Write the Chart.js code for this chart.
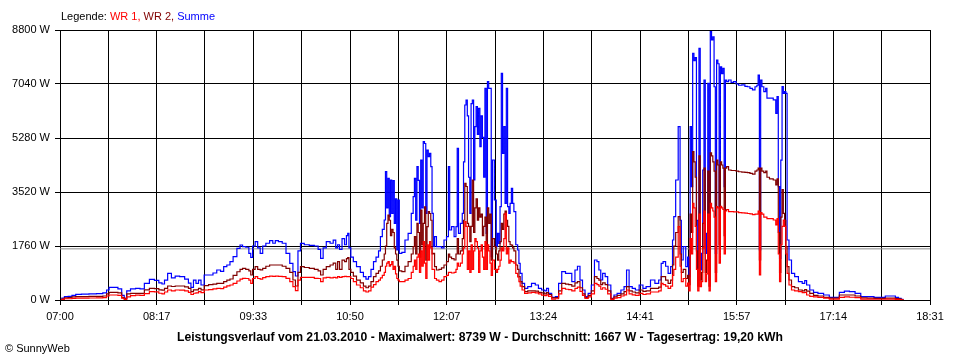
<!DOCTYPE html>
<html>
<head>
<meta charset="utf-8">
<script src="https://cdn.jsdelivr.net/npm/chart.js@4.4.1/dist/chart.umd.min.js"></script>
<style>
  html, body { margin: 0; padding: 0; background: #fff; }
  #wrap { width: 960px; height: 360px; }
</style>
</head>
<body>
<div id="wrap"><canvas id="chart" width="960" height="360"></canvas></div>
<script>
// Tick labels and legend
const yTicks = [0, 1760, 3520, 5280, 7040, 8800];
const xTickLabels = ['07:00', '08:17', '09:33', '10:50', '12:07', '13:24', '14:41', '15:57', '17:14', '18:31'];
const legendLabels = ['WR 1', 'WR 2', 'Summe'];
const dayInfo = { date: '21.03.2010', max: 8739, avg: 1667, yield: '19,20' };

// Sample times (HH:MM), one row per group of 10
const times = [
  '07:01','07:02','07:05','07:08','07:11','07:14','07:20','07:26','07:32','07:36',
  '07:38','07:40','07:44','07:48','07:50','07:52','07:54','07:58','08:02','08:05',
  '08:09','08:13','08:17','08:20','08:22','08:24','08:27','08:30','08:33','08:37',
  '08:41','08:43','08:45','08:47','08:49','08:51','08:53','08:56','09:00','09:03',
  '09:06','09:09','09:11','09:14','09:16','09:19','09:22','09:24','09:26','09:29',
  '09:31','09:32','09:34','09:36','09:38','09:40','09:42','09:45','09:48','09:50',
  '09:52','09:55','09:58','10:01','10:04','10:06','10:08','10:10','10:12','10:16',
  '10:20','10:24','10:26','10:28','10:30','10:33','10:36','10:38','10:40','10:41',
  '10:43','10:45','10:47','10:48','10:49','10:50','10:52','10:54','10:57','11:00',
  '11:02','11:04','11:06','11:08','11:10','11:12','11:14','11:15','11:17','11:18',
  '11:19','11:20','11:21','11:22','11:23','11:24','11:25','11:26','11:27','11:28',
  '11:29','11:30','11:33','11:35','11:38','11:40','11:41','11:42','11:43','11:44',
  '11:45','11:46','11:47','11:48','11:49','11:50','11:51','11:52','11:53','11:54',
  '11:55','11:56','11:57','11:58','12:00','12:02','12:04','12:06','12:08','12:09',
  '12:10','12:12','12:14','12:15','12:16','12:17','12:19','12:20','12:21','12:22',
  '12:23','12:24','12:25','12:26','12:27','12:28','12:29','12:30','12:31','12:32',
  '12:33','12:34','12:35','12:36','12:37','12:38','12:39','12:40','12:41','12:42',
  '12:43','12:44','12:46','12:47','12:48','12:49','12:50','12:51','12:52','12:53',
  '12:54','12:55','12:56','12:57','12:58','12:59','13:00','13:01','13:03','13:04',
  '13:05','13:06','13:08','13:10','13:13','13:16','13:19','13:21','13:24','13:26',
  '13:27','13:29','13:32','13:35','13:37','13:40','13:43','13:45','13:48','13:50',
  '13:52','13:54','13:56','13:58','14:01','14:03','14:06','14:07','14:09','14:10',
  '14:12','14:14','14:16','14:19','14:21','14:24','14:27','14:29','14:31','14:33',
  '14:36','14:38','14:42','14:44','14:47','14:51','14:54','14:57','14:58','15:00',
  '15:02','15:04','15:06','15:07','15:08','15:10','15:12','15:13','15:14','15:16',
  '15:18','15:19','15:20','15:21','15:22','15:23','15:24','15:25','15:26','15:27',
  '15:28','15:29','15:30','15:31','15:32','15:33','15:34','15:35','15:36','15:37',
  '15:38','15:39','15:40','15:41','15:42','15:43','15:44','15:45','15:46','15:47',
  '15:48','15:49','15:50','15:52','15:54','15:56','15:58','16:00','16:03','16:05',
  '16:07','16:09','16:11','16:13','16:14','16:15','16:16','16:17','16:18','16:20',
  '16:21','16:22','16:25','16:28','16:29','16:30','16:31','16:32','16:33','16:34',
  '16:35','16:36','16:37','16:38','16:40','16:42','16:45','16:48','16:51','16:52',
  '16:54','16:57','17:00','17:04','17:09','17:13','17:17','17:21','17:25','17:29',
  '17:34','17:38','17:44','17:49','17:53','17:58','18:02','18:05','18:07','18:09',
  '18:10'
];

// Summe (W)
const summe = [
  0,60,110,120,150,185,190,200,210,230,
  326,414,414,360,150,60,300,360,380,360,
  543,674,640,560,521,650,870,720,780,760,
  680,550,414,650,540,650,489,815,815,880,
  978,930,1086,1140,1250,1412,1683,1792,1740,1720,
  1521,1390,1760,1900,1700,1521,1760,1850,1933,1850,
  1933,1900,1850,1521,1195,923,782,1600,1847,1800,
  1780,1760,1650,1358,1700,1900,1850,1950,1700,1800,
  1650,2000,1800,2100,2173,1700,1400,1250,1090,900,
  760,680,760,1000,1250,1400,1600,2064,2300,2607,
  4183,3000,3966,2716,3911,2820,3890,2500,3300,1630,
  3259,1520,1550,1955,2173,2825,3367,3966,2600,4345,
  3900,2500,4563,3000,5160,5100,2825,4889,4670,4780,
  4345,2825,1738,2064,1738,1738,1700,1955,2064,4345,
  2281,2390,2064,2390,4943,2170,2500,2825,4500,6355,
  6518,6000,4000,2825,6400,6518,3911,5650,6300,5400,
  6250,5000,6000,5300,4000,6898,2173,7115,6900,6900,
  1412,4563,3259,1738,2173,1847,3041,7388,4780,5650,
  3150,6898,3041,2820,3150,3640,3150,2880,1800,1630,
  1195,870,543,380,434,543,489,380,326,300,
  380,217,87,108,543,923,870,870,597,978,
  1100,650,326,108,217,489,1304,1250,978,652,
  870,760,489,55,163,217,326,434,978,434,
  380,326,489,380,434,652,543,652,1195,1250,
  1100,870,1086,1955,2716,3911,5649,2600,1304,1738,
  1086,1400,760,5649,3693,8040,7800,7900,2600,650,
  8203,978,1520,4237,7170,1520,2170,7060,650,8744,
  8474,8580,6950,1520,7820,7700,3040,7600,7380,7550,
  3693,7170,7115,7170,7090,7115,7040,7000,7010,6960,
  6950,6900,6850,6950,7000,7333,1630,7170,6950,6790,
  6900,6580,6580,6520,6084,6630,3693,1358,4560,6952,
  6735,6790,6735,1955,1304,870,760,597,543,630,
  489,326,250,217,163,87,87,250,290,270,
  217,108,108,87,87,130,130,87,55,22,
  0
];

// WR 2 (W)
const wr2 = [
  0,30,70,80,100,110,110,115,120,130,
  200,250,250,230,80,40,200,217,217,217,
  330,380,370,330,320,380,456,440,456,456,
  430,380,270,330,330,380,330,470,500,520,
  543,543,600,650,684,800,920,1000,1032,1000,
  950,815,1000,1086,1000,980,1030,1100,1141,1141,
  1141,1141,1100,1032,900,652,456,900,1086,1060,
  1030,1000,950,815,1000,1086,1141,1200,1000,1250,
  1000,1300,1250,1350,1380,1000,900,780,650,560,
  450,400,450,600,760,870,950,1100,1304,1500,
  1760,2500,2770,2600,2100,2300,2200,1700,1500,1300,
  1100,950,923,1100,1250,1500,1738,2064,1500,2500,
  2200,1400,2933,1800,2500,3040,1300,2390,2880,2820,
  2600,1500,1520,1086,978,1000,1050,1141,1250,1500,
  1400,1350,1304,1500,2000,1500,1600,2000,2600,3802,
  3700,2500,2400,1900,2400,3911,2200,3000,3300,2600,
  3000,2700,2800,2100,2400,2700,1600,3000,2500,2800,
  1300,2000,1738,1500,1300,1600,1900,2500,2300,2800,
  2900,2600,2400,1900,1800,1790,1700,1600,1141,1000,
  760,600,434,272,300,300,290,250,230,200,
  240,180,70,80,300,543,520,500,450,560,
  600,400,200,80,150,300,760,700,650,500,
  560,500,300,40,100,150,200,270,434,300,
  260,230,326,280,300,380,380,420,760,760,
  650,540,650,1141,1760,2200,2716,1500,900,1000,
  700,800,500,2800,2200,4833,4500,4000,1600,450,
  4700,650,900,2500,4300,900,1300,4200,450,4800,
  4700,4500,4200,900,4563,4400,1800,4500,4400,4300,
  2100,4300,4345,4237,4220,4220,4200,4180,4170,4160,
  4150,4130,4100,4200,4237,4300,1304,4300,4200,4150,
  4200,4000,3950,3911,3750,3950,2200,900,2700,3600,
  2825,2600,1738,1086,652,434,400,326,300,340,
  290,217,150,130,87,60,60,163,163,163,
  130,70,60,50,50,60,60,45,35,10,
  0
];

// WR 1 (W)
const wr1 = [
  0,20,40,40,50,60,60,65,70,80,
  130,163,163,150,60,20,100,140,160,150,
  210,272,265,220,200,260,326,300,326,320,
  300,250,180,220,230,270,240,326,340,360,
  380,370,420,460,489,540,620,680,706,700,
  650,543,700,760,700,680,730,760,780,770,
  780,770,760,706,600,434,304,650,740,740,
  740,706,700,600,720,740,720,740,720,760,
  740,760,770,760,760,760,700,600,489,400,
  300,260,300,420,500,600,650,720,800,900,
  1100,1200,1250,1100,1150,1250,1000,1100,850,700,
  650,600,597,650,700,900,1100,1300,1000,1400,
  1500,900,1600,1100,1900,1200,700,1800,1300,1900,
  1700,1000,1000,700,650,600,650,760,800,900,
  900,880,900,1000,1200,1100,1200,1500,1700,2553,
  2400,1000,1600,900,1800,1000,1600,2000,1900,1700,
  900,1600,1800,1400,1000,1900,1000,1800,1600,1200,
  800,1300,1000,900,1000,1100,1300,1700,1600,2000,
  2825,1500,1700,1200,1300,1250,1250,1200,870,750,
  600,450,326,217,230,250,230,200,160,140,
  170,120,30,40,200,380,350,340,300,380,
  420,280,150,50,100,200,543,500,450,350,
  400,350,200,20,60,80,130,170,326,200,
  170,150,217,180,200,260,260,300,543,500,
  450,380,450,800,1000,1400,2390,1100,600,700,
  450,550,300,2000,1500,3150,3000,2400,1000,300,
  2800,434,600,1700,2900,600,850,2800,300,3150,
  3000,2900,2700,600,3041,3000,1200,3050,3000,2950,
  1500,2900,2950,2880,2880,2870,2870,2850,2840,2830,
  2820,2810,2780,2800,2800,2900,815,2850,2800,2700,
  2700,2650,2650,2607,2450,2650,1500,600,1800,2400,
  2607,2400,1500,870,489,326,300,272,240,250,
  163,120,100,87,60,30,30,87,100,90,
  80,30,30,25,25,30,30,20,15,5,
  0
];

const FONT = '"Liberation Sans", Arial, sans-serif';
const toMin = s => Number(s.slice(0, 2)) * 60 + Number(s.slice(3));
const xStart = toMin(xTickLabels[0]);
const xEnd = toMin(xTickLabels[xTickLabels.length - 1]);
// 18 grid intervals, a label on every second one
const gridMinutes = Array.from({ length: 19 }, (_, i) => xStart + i * (xEnd - xStart) / 18);

const points = arr => times.map((t, i) => ({ x: toMin(t), y: arr[i] }));

const colors = { wr1: '#ff0000', wr2: '#800000', summe: '#0000ff', avg: '#8c8c8c' };

const textPlugin = {
    id: 'sunnyText',
    beforeDraw(chart) {
        const ctx = chart.ctx;
        ctx.save();
        ctx.fillStyle = '#fff';
        ctx.fillRect(0, 0, chart.width, chart.height);
        ctx.restore();
    },
    afterDraw(chart) {
        const ctx = chart.ctx;
        ctx.save();
        ctx.textBaseline = 'alphabetic';
        ctx.textAlign = 'left';

        // Legend line at top
        ctx.font = '11px ' + FONT;
        const parts = [
            { text: 'Legende: ', color: '#000' },
            { text: legendLabels[0] + ', ', color: colors.wr1 },
            { text: legendLabels[1] + ', ', color: colors.wr2 },
            { text: legendLabels[2], color: colors.summe }
        ];
        let x = 61;
        parts.forEach(p => {
            ctx.fillStyle = p.color;
            ctx.fillText(p.text, x, 20);
            x += ctx.measureText(p.text).width;
        });

        // Footer
        ctx.fillStyle = '#000';
        ctx.fillText('\u00a9 SunnyWeb', 5, 352);

        ctx.font = 'bold 12.2px ' + FONT;
        ctx.textAlign = 'center';
        const title = 'Leistungsverlauf vom ' + dayInfo.date +
            ' - Maximalwert: ' + dayInfo.max + ' W' +
            ' - Durchschnitt: ' + dayInfo.avg + ' W' +
            ' - Tagesertrag: ' + dayInfo.yield + ' kWh';
        ctx.fillText(title, 480, 341);
        ctx.restore();
    }
};

const lineStyle = { borderWidth: 1.2, pointRadius: 0, tension: 0, fill: false, stepped: 'middle' };

new Chart(document.getElementById('chart'), {
    type: 'line',
    data: {
        datasets: [
            Object.assign({ label: legendLabels[0], data: points(wr1), borderColor: colors.wr1 }, lineStyle),
            Object.assign({ label: legendLabels[1], data: points(wr2), borderColor: colors.wr2 }, lineStyle),
            Object.assign({ label: legendLabels[2], data: points(summe), borderColor: colors.summe }, lineStyle),
            Object.assign({}, lineStyle, { label: 'Durchschnitt', data: [{ x: xStart, y: dayInfo.avg }, { x: xEnd, y: dayInfo.avg }], borderColor: colors.avg, borderWidth: 1, stepped: false })
        ]
    },
    options: {
        responsive: false,
        animation: false,
        events: [],
        layout: { padding: { left: 0, right: 30, top: 30, bottom: 0 } },
        scales: {
            x: {
                type: 'linear',
                min: xStart,
                max: xEnd,
                afterBuildTicks: s => { s.ticks = gridMinutes.map(v => ({ value: v })); },
                afterFit: s => { s.height = 60; },
                border: { display: true, color: '#000', width: 1 },
                grid: { color: '#000', lineWidth: 1, tickLength: 5, tickColor: '#000' },
                ticks: {
                    autoSkip: false,
                    maxRotation: 0,
                    padding: 5,
                    color: '#000',
                    font: { family: FONT, size: 11 },
                    callback: (v, i) => (i % 2 ? '' : xTickLabels[i / 2])
                }
            },
            y: {
                min: 0,
                max: 8800,
                afterBuildTicks: s => { s.ticks = yTicks.map(v => ({ value: v })); },
                afterFit: s => { s.width = 60; },
                border: { display: true, color: '#000', width: 1 },
                grid: { color: '#000', lineWidth: 1, tickLength: 5, tickColor: '#000' },
                ticks: {
                    padding: 5,
                    color: '#000',
                    font: { family: FONT, size: 11 },
                    callback: v => v + ' W'
                }
            }
        },
        plugins: {
            legend: { display: false },
            tooltip: { enabled: false },
            title: { display: false }
        }
    },
    plugins: [textPlugin]
});
</script>
</body>
</html>
